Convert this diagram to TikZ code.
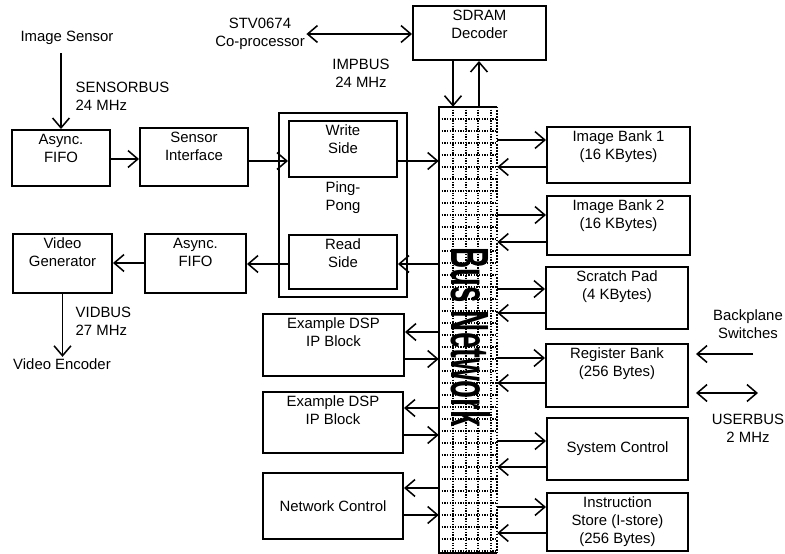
\documentclass[tikz,border=0pt]{standalone}
\usepackage{fontspec}
\setmainfont{Liberation Sans}
\usetikzlibrary{fit,arrows.meta}

\begin{document}
\begin{tikzpicture}
  [x=0.025cm, y=-0.025cm,
   every node/.style={font=\fontsize{10.6}{12.8}\selectfont},
   blk/.style={draw, line width=1.4pt, inner sep=0pt, align=center},
   toptext/.style={label={[anchor=north, inner sep=3.3pt, align=center]north:#1}},
   midtext/.style={label={[inner sep=0pt, align=center]center:#1}},
   txt/.style={align=center, inner sep=1pt},
   arr/.style={-{Straight Barb[length=7pt, width=12pt]}, line width=1.1pt},
   dbl/.style={{Straight Barb[length=7pt, width=12pt]}-{Straight Barb[length=7pt, width=12pt]}, line width=1.1pt},
   gridline/.style={densely dotted, line width=0.9pt}]
  \useasboundingbox (0,0) rectangle (785,554);

  % Sensor input path
  \node[txt] (isen) at (67,38) {Image Sensor};
  \node[txt, anchor=west, align=left] (sbus) at (74,96) {SENSORBUS\\24 MHz};
  \node[blk, toptext={Async.\\FIFO}, fit={(12,130) (110,186)}] (fifoa) {};
  \node[blk, toptext={Sensor\\Interface}, fit={(140,128) (248,186)}] (sif) {};
  \draw[arr, shorten <=5pt] (isen.south -| fifoa.north) -- (fifoa.north);
  \draw[arr] (fifoa.east |- 0,159) -- (sif.west |- 0,159);

  % Ping-pong buffer
  \node[blk, fit={(279,113) (407,297)}] (pp) {};
  \node[blk, toptext={Write\\Side}, fit={(289,121) (397,177)}] (ws) {};
  \node[blk, toptext={Read\\Side}, fit={(289,235) (397,289)}] (rs) {};
  \node[txt] (pplbl) at (343,198) {Ping-\\Pong};
  \draw[arr] (sif.east |- 0,161) -- (ws.west |- 0,161);

  % Video output path
  \node[blk, toptext={Async.\\FIFO}, fit={(145,234) (246,293)}] (fifob) {};
  \node[blk, toptext={Video\\Generator}, fit={(13,234) (112,293)}] (vgen) {};
  \node[txt, anchor=west, align=left] (vbus) at (74,321) {VIDBUS\\27 MHz};
  \node[txt] (venc) at (62,364) {Video Encoder};
  \draw[arr] (rs.west |- 0,264) -- (fifob.east |- 0,264);
  \draw[arr] (fifob.west |- 0,263) -- (vgen.east |- 0,263);
  \draw[arr] (vgen.south) -- (vgen.south |- venc.north);

  % Bus network
  \node[fit={(439,107) (497,553)}, inner sep=0pt] (bus) {};
  \foreach \gx in {453,466,478,491}
    \draw[gridline] (\gx,107) -- (\gx,553);
  \foreach \gy in {119,131,...,551}
    \draw[gridline] (439,\gy) -- (497,\gy);
  \draw[line width=1.6pt] (bus.north east) -- (bus.north west) -- (bus.south west) -- (bus.south east);
  \draw[densely dotted, line width=1.2pt] (bus.north east) -- (bus.south east);
  \node[rotate=-90, inner sep=0pt] (buslbl) at (471,337)
    {\resizebox{4.475cm}{0.975cm}{\bfseries Bus Network}};

  % SDRAM and co-processor
  \node[blk, toptext={SDRAM\\Decoder}, fit={(413,6) (546,60)}] (sdram) {};
  \node[txt] (stv) at (260,34) {STV0674\\Co-processor};
  \node[txt] (ibus) at (361,73) {IMPBUS\\24 MHz};
  \draw[dbl] (stv.east) -- (stv.east -| sdram.west);
  \draw[arr] (sdram.south -| 453,0) -- (bus.north -| 453,0);
  \draw[arr] (bus.north -| 479,0) -- (sdram.south -| 479,0);

  % Left side of the bus
  \draw[arr] (ws.east |- 0,161) -- (bus.west |- 0,161);
  \draw[arr] (bus.west |- 0,264) -- (rs.east |- 0,264);
  \node[blk, toptext={Example DSP\\IP Block}, fit={(263,314) (404,376)}] (dspa) {};
  \node[blk, toptext={Example DSP\\IP Block}, fit={(263,392) (403,453)}] (dspb) {};
  \node[blk, midtext={Network Control}, fit={(263,473) (403,539)}] (netc) {};
  \draw[arr] (bus.west |- 0,332) -- (dspa.east |- 0,332);
  \draw[arr] (dspa.east |- 0,359) -- (bus.west |- 0,359);
  \draw[arr] (bus.west |- 0,408) -- (dspb.east |- 0,408);
  \draw[arr] (dspb.east |- 0,435) -- (bus.west |- 0,435);
  \draw[arr] (bus.west |- 0,488) -- (netc.east |- 0,488);
  \draw[arr] (netc.east |- 0,515) -- (bus.west |- 0,515);

  % Right side of the bus
  \node[blk, toptext={Image Bank 1\\(16 KBytes)}, fit={(547,127) (690,183)}] (ib1) {};
  \node[blk, toptext={Image Bank 2\\(16 KBytes)}, fit={(547,196) (690,255)}] (ib2) {};
  \node[blk, toptext={Scratch Pad\\(4 KBytes)}, fit={(546,267) (688,329)}] (spad) {};
  \node[blk, toptext={Register Bank\\(256 Bytes)}, fit={(546,344) (688,407)}] (rbank) {};
  \node[blk, midtext={System Control}, fit={(547,418) (688,480)}] (sysc) {};
  \node[blk, midtext={Instruction\\Store (I-store)\\(256 Bytes)}, fit={(547,493) (688,551)}] (istore) {};
  \draw[arr] (bus.east |- 0,140) -- (ib1.west |- 0,140);
  \draw[arr] (ib1.west |- 0,167) -- (bus.east |- 0,167);
  \draw[arr] (bus.east |- 0,215) -- (ib2.west |- 0,215);
  \draw[arr] (ib2.west |- 0,242) -- (bus.east |- 0,242);
  \draw[arr] (bus.east |- 0,289) -- (spad.west |- 0,289);
  \draw[arr] (spad.west |- 0,313) -- (bus.east |- 0,313);
  \draw[arr] (bus.east |- 0,358) -- (rbank.west |- 0,358);
  \draw[arr] (rbank.west |- 0,383) -- (bus.east |- 0,383);
  \draw[arr] (bus.east |- 0,441) -- (sysc.west |- 0,441);
  \draw[arr] (sysc.west |- 0,467) -- (bus.east |- 0,467);
  \draw[arr] (bus.east |- 0,507) -- (istore.west |- 0,507);
  \draw[arr] (istore.west |- 0,533) -- (bus.east |- 0,533);

  % Register bank outside links
  \node[txt] (bpsw) at (748,324) {Backplane\\Switches};
  \node[txt] (ubus) at (748,428) {USERBUS\\2 MHz};
  \coordinate (bpin) at (753,354);
  \coordinate (uend) at (758,393);
  \draw[arr, shorten >=5pt] (bpin) -- (rbank.east |- bpin);
  \draw[dbl, shorten <=5pt] (rbank.east |- uend) -- (uend);
\end{tikzpicture}
\end{document}
